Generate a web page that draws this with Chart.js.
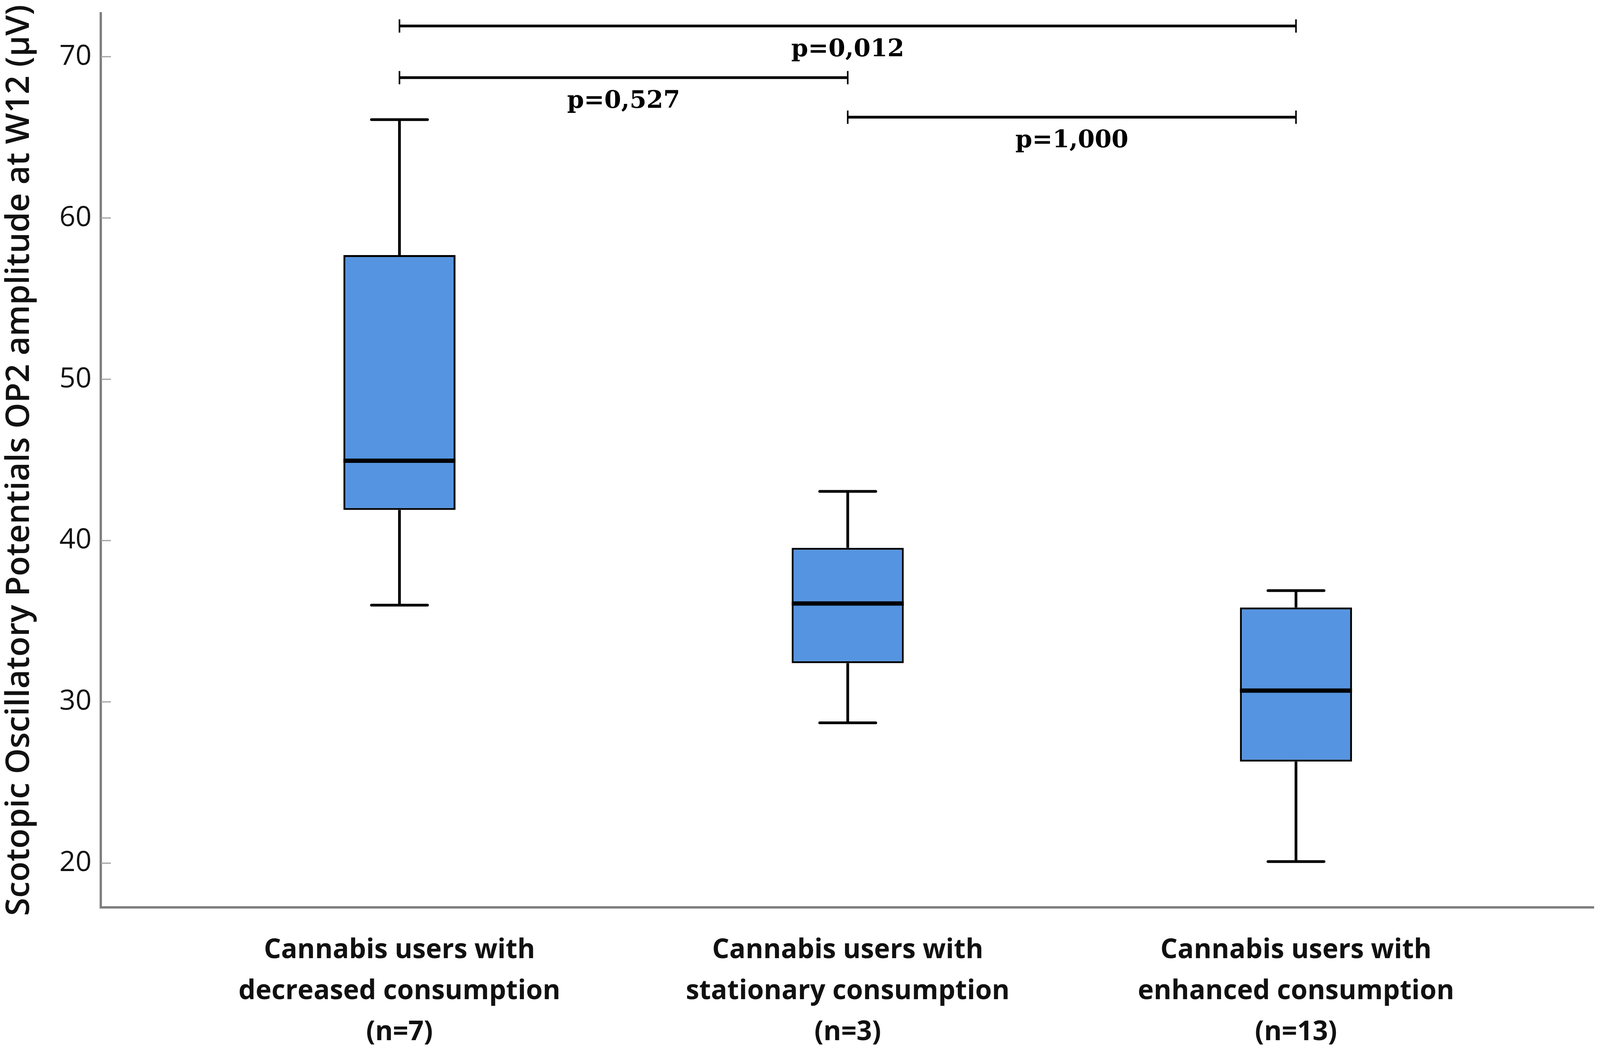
<!DOCTYPE html>
<html>
<head>
<meta charset="utf-8">
<title>Scotopic OP2 amplitude at W12</title>
<script src="https://cdn.jsdelivr.net/npm/chart.js@4.4.1/dist/chart.umd.min.js"></script>
<style>
  html, body { margin: 0; padding: 0; background: #fff; overflow: hidden; }
  #wrap { width: 100vw; height: 100vh; }
</style>
</head>
<body>
<div id="wrap"><canvas id="chart"></canvas></div>
<script>
// groups on the x axis (one label line per array entry)
let groups = [
  ["Cannabis users with", "decreased consumption", "(n=7)"],
  ["Cannabis users with", "stationary consumption", "(n=3)"],
  ["Cannabis users with", "enhanced consumption", "(n=13)"],
];
let groupPos = [1, 2, 3];

// box plot values (µV)
let whiskerLow = [36.0, 28.7, 20.1];
let q1 = [41.9, 32.4, 26.3];
let median = [44.95, 36.1, 30.7];
let q3 = [57.7, 39.55, 35.85];
let whiskerHigh = [66.1, 43.05, 36.9];

let yTicks = [20, 30, 40, 50, 60, 70];

// pairwise comparison brackets
let pFrom = [1, 1, 2];
let pTo = [3, 2, 3];
let pLevel = [71.9, 68.7, 66.25];
let pLabels = ["p=0,012", "p=0,527", "p=1,000"];

// the original figure is 4328 px wide; horizontal spacing follows the window
const wScale = window.innerWidth / 4328;

const boxExtras = {
  id: "boxExtras",
  afterDatasetsDraw(chart) {
    const ctx = chart.ctx;
    const x = chart.scales.x;
    const y = chart.scales.y;
    const bars = chart.getDatasetMeta(0).data;
    ctx.save();
    ctx.strokeStyle = "#000";

    groupPos.forEach((pos, i) => {
      const cx = x.getPixelForValue(pos);
      const half = bars[i].width / 2;
      const capHalf = half / 2;

      ctx.lineWidth = 7;
      ctx.beginPath();
      ctx.moveTo(cx, y.getPixelForValue(whiskerHigh[i]));
      ctx.lineTo(cx, y.getPixelForValue(q3[i]));
      ctx.moveTo(cx, y.getPixelForValue(q1[i]));
      ctx.lineTo(cx, y.getPixelForValue(whiskerLow[i]));
      ctx.stroke();

      ctx.lineCap = "round";
      ctx.beginPath();
      ctx.moveTo(cx - capHalf, y.getPixelForValue(whiskerHigh[i]));
      ctx.lineTo(cx + capHalf, y.getPixelForValue(whiskerHigh[i]));
      ctx.moveTo(cx - capHalf, y.getPixelForValue(whiskerLow[i]));
      ctx.lineTo(cx + capHalf, y.getPixelForValue(whiskerLow[i]));
      ctx.stroke();
      ctx.lineCap = "butt";

      ctx.lineWidth = 11;
      ctx.beginPath();
      ctx.moveTo(cx - half, y.getPixelForValue(median[i]));
      ctx.lineTo(cx + half, y.getPixelForValue(median[i]));
      ctx.stroke();
    });

    // small tick marks pointing into the plot
    ctx.strokeStyle = "#a0a0a0";
    ctx.lineWidth = 3;
    yTicks.forEach((v) => {
      const py = y.getPixelForValue(v);
      ctx.beginPath();
      ctx.moveTo(chart.chartArea.left, py);
      ctx.lineTo(chart.chartArea.left + 27 * wScale, py);
      ctx.stroke();
    });

    // significance brackets
    ctx.strokeStyle = "#000";
    ctx.fillStyle = "#000";
    ctx.font = "bold 62px 'DejaVu Serif'";
    ctx.textAlign = "center";
    ctx.textBaseline = "alphabetic";
    pLabels.forEach((label, i) => {
      const x1 = x.getPixelForValue(pFrom[i]);
      const x2 = x.getPixelForValue(pTo[i]);
      const py = y.getPixelForValue(pLevel[i]);
      ctx.lineWidth = 7;
      ctx.beginPath();
      ctx.moveTo(x1, py);
      ctx.lineTo(x2, py);
      ctx.stroke();
      ctx.lineWidth = 4;
      ctx.beginPath();
      ctx.moveTo(x1, py - 17);
      ctx.lineTo(x1, py + 17);
      ctx.moveTo(x2, py - 17);
      ctx.lineTo(x2, py + 17);
      ctx.stroke();
      ctx.fillText(label, (x1 + x2) / 2, py + 77);
    });
    ctx.restore();
  },
};

let boxConfig = {
  type: "bar",
  data: {
    datasets: [
      {
        data: groupPos.map((p, i) => ({ x: p, y: [q1[i], q3[i]] })),
        backgroundColor: "#5594e0",
        borderColor: "#000",
        borderWidth: 5,
        borderSkipped: false,
        barPercentage: 0.25,
        categoryPercentage: 1,
      },
    ],
  },
  options: {
    responsive: true,
    maintainAspectRatio: false,
    animation: false,
    devicePixelRatio: 1,
    layout: { padding: { top: 34, right: 16 * wScale, left: 0, bottom: 0 } },
    plugins: {
      legend: { display: false },
      tooltip: { enabled: false },
    },
    scales: {
      x: {
        type: "linear",
        min: 0.334,
        max: 3.665,
        offset: false,
        grid: { display: false, offset: false },
        border: { display: true, color: "#7f7f7f", width: 6 },
        afterBuildTicks: (scale) => {
          scale.ticks = groupPos.map((v) => ({ value: v }));
        },
        afterFit: (scale) => {
          scale.height = 360;
          scale.paddingLeft = 0;
          scale.paddingRight = 0;
        },
        ticks: {
          autoSkip: false,
          maxRotation: 0,
          padding: 50,
          color: "#111",
          font: { family: "'Open Sans'", size: 69, weight: "bold", lineHeight: 1.52 },
          callback: (value) => groups[groupPos.indexOf(value)] || "",
        },
      },
      y: {
        min: 17.26,
        max: 72.69,
        grid: { display: false },
        border: { display: true, color: "#7f7f7f", width: 6 },
        afterBuildTicks: (scale) => {
          scale.ticks = yTicks.map((v) => ({ value: v }));
        },
        afterFit: (scale) => {
          scale.width = 273 * wScale;
          scale.paddingTop = 0;
          scale.paddingBottom = 0;
        },
        ticks: {
          padding: 16,
          color: "#111",
          font: { family: "'Open Sans'", size: 72 },
        },
        title: {
          display: true,
          text: "Scotopic Oscillatory Potentials OP2 amplitude at W12 (\u03bcV)",
          color: "#111",
          padding: { top: 0, bottom: 0 },
          font: { family: "'Open Sans'", size: 84, weight: "600", lineHeight: 1.2 },
        },
      },
    },
  },
  plugins: [boxExtras],
};

new Chart(document.querySelector("#chart"), boxConfig);
</script>
</body>
</html>
